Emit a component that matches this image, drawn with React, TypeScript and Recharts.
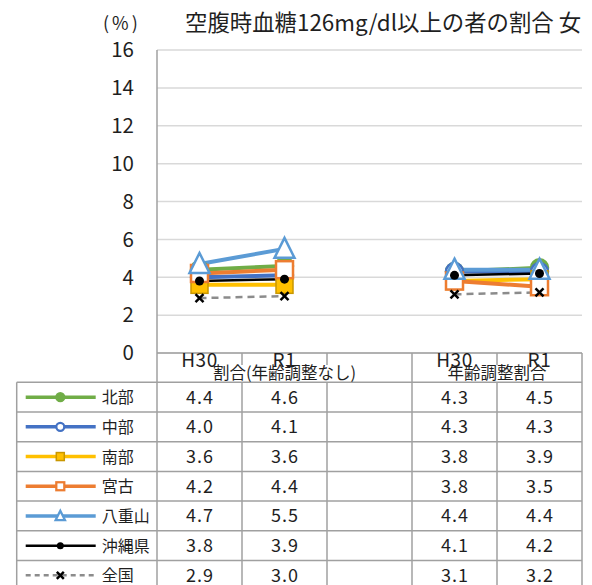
import React from 'react';
import { LineChart, Line, XAxis, YAxis, CartesianGrid } from 'recharts';

const FONT = '"Noto Sans CJK JP", "Noto Sans", sans-serif';
const TEXT = '#1f1f1f';

const title = '空腹時血糖126mg/dl以上の者の割合 女';
const unitLabel = '(%)';
const categories = ['H30', 'R1', '', 'H30', 'R1'];
const groups = ['割合(年齢調整なし)', '年齢調整割合'];
const groupSpans = [[0, 3], [3, 5]];
const yTicks = [0, 2, 4, 6, 8, 10, 12, 14, 16];

const seriesNames = ['北部', '中部', '南部', '宮古', '八重山', '沖縄県', '全国'];
const hokubu = [4.4, 4.6, null, 4.3, 4.5];
const chubu = [4.0, 4.1, null, 4.3, 4.3];
const nanbu = [3.6, 3.6, null, 3.8, 3.9];
const miyako = [4.2, 4.4, null, 3.8, 3.5];
const yaeyama = [4.7, 5.5, null, 4.4, 4.4];
const okinawa = [3.8, 3.9, null, 4.1, 4.2];
const zenkoku = [2.9, 3.0, null, 3.1, 3.2];
const seriesValues = [hokubu, chubu, nanbu, miyako, yaeyama, okinawa, zenkoku];

type Style = { color: string; width: number; dash?: string; marker: string; fill: string; mstroke: string };
const styles: Style[] = [
  { color: '#70AD47', width: 4, marker: 'circle', fill: '#70AD47', mstroke: '#70AD47' },
  { color: '#4472C4', width: 4, marker: 'circle', fill: '#FFFFFF', mstroke: '#4472C4' },
  { color: '#FFC000', width: 4, marker: 'square', fill: '#FFC000', mstroke: '#C99700' },
  { color: '#ED7D31', width: 4, marker: 'square', fill: '#FFFFFF', mstroke: '#ED7D31' },
  { color: '#5B9BD5', width: 4, marker: 'triangle', fill: '#FFFFFF', mstroke: '#5B9BD5' },
  { color: '#000000', width: 2.5, marker: 'dot', fill: '#000000', mstroke: '#000000' },
  { color: '#8C8C8C', width: 2.5, dash: '7 5', marker: 'x', fill: '#000000', mstroke: '#000000' },
];

const data = categories.map((c, i) => {
  const row: any = { x: i + 0.5, cat: c };
  seriesValues.forEach((vals, s) => {
    row['s' + s] = vals[i];
  });
  return row;
});

// layout
const W = 592;
const H = 585;
const PL = 157;
const PR = 582;
const PT = 50;
const PB = 353;
const BAND = (PR - PL) / categories.length;
const TABLE_TOP = 382.3;
const ROW_H = 29.7;
const TABLE_LEFT = 16.7;

function Marker({ type, cx, cy, st, scale }: any) {
  const k = scale;
  const sw = st.marker === 'square' && st.fill !== '#FFFFFF' ? 1.5 : 2.5 * (k < 1 ? 0.9 : 1);
  if (type === 'circle') {
    return <circle cx={cx} cy={cy} r={8.5 * k} fill={st.fill} stroke={st.mstroke} strokeWidth={sw} />;
  }
  if (type === 'square') {
    const h = 8.5 * k;
    return <rect x={cx - h} y={cy - h} width={2 * h} height={2 * h} fill={st.fill} stroke={st.mstroke} strokeWidth={sw} />;
  }
  if (type === 'triangle') {
    const w = 10 * k;
    const hh = 10 * k;
    return (
      <polygon
        points={`${cx},${cy - hh - 1 * k} ${cx + w},${cy + hh - 1 * k} ${cx - w},${cy + hh - 1 * k}`}
        fill={st.fill}
        stroke={st.mstroke}
        strokeWidth={sw}
        strokeLinejoin="miter"
      />
    );
  }
  if (type === 'dot') {
    return <circle cx={cx} cy={cy} r={k < 1 ? 3.5 : 4.5} fill="#000" />;
  }
  if (type === 'x') {
    const d = k < 1 ? 3.5 : 4;
    return (
      <g stroke="#000" strokeWidth={2.5}>
        <line x1={cx - d} y1={cy - d} x2={cx + d} y2={cy + d} />
        <line x1={cx - d} y1={cy + d} x2={cx + d} y2={cy - d} />
      </g>
    );
  }
  return null;
}

const makeDot = (st: Style) => (props: any) => {
  const { cx, cy, index, value } = props;
  if (cx == null || cy == null || value == null) return <g key={'e' + index} />;
  return (
    <g key={'d' + index}>
      <Marker type={st.marker} cx={cx} cy={cy} st={st} scale={1} />
    </g>
  );
};

const XTick = (props: any) => {
  const { x, y, payload } = props;
  const label = categories[Math.round(payload.value - 0.5)];
  return (
    <text x={x} y={y + 13.8} textAnchor="middle" fontSize={19} fill={TEXT} fontFamily={FONT} letterSpacing={0.6}>
      {label}
    </text>
  );
};

function Overlay() {
  const lc = '#A0A0A0';
  const lw = 1.5;
  const lines: any[] = [];
  const nRows = seriesNames.length;
  for (let k = 0; k <= nRows; k++) {
    const y = TABLE_TOP + k * ROW_H;
    if (y > H) break;
    lines.push(<line key={'h' + k} x1={TABLE_LEFT} x2={PR} y1={y} y2={y} stroke={lc} strokeWidth={lw} />);
  }
  lines.push(<line key="vl" x1={TABLE_LEFT} x2={TABLE_LEFT} y1={TABLE_TOP} y2={H} stroke={lc} strokeWidth={lw} />);
  lines.push(<line key="vax" x1={PL} x2={PL} y1={PB} y2={H} stroke={lc} strokeWidth={lw} />);
  for (let i = 1; i <= categories.length; i++) {
    const x = PL + i * BAND;
    const isGroupEdge = groupSpans.some((g) => g[1] === i);
    if (isGroupEdge) {
      lines.push(<line key={'v' + i} x1={x} x2={x} y1={PB} y2={H} stroke={lc} strokeWidth={lw} />);
    } else {
      lines.push(<line key={'vt' + i} x1={x} x2={x} y1={PB} y2={PB + 12} stroke={lc} strokeWidth={lw} />);
      lines.push(<line key={'vb' + i} x1={x} x2={x} y1={TABLE_TOP} y2={H} stroke={lc} strokeWidth={lw} />);
    }
  }

  const texts: any[] = [];
  groups.forEach((g, gi) => {
    const [a, b] = groupSpans[gi];
    const cx = PL + ((a + b) / 2) * BAND;
    texts.push(
      <text key={'g' + gi} x={cx} y={379} textAnchor="middle" fontSize={16.5} fill={TEXT} fontFamily={FONT}>
        {g}
      </text>
    );
  });

  seriesNames.forEach((name, s) => {
    const st = styles[s];
    const cy = TABLE_TOP + s * ROW_H + ROW_H / 2;
    texts.push(
      <g key={'lg' + s}>
        <line x1={25.7} x2={95.7} y1={cy} y2={cy} stroke={st.color} strokeWidth={st.width === 4 ? 3.5 : 2.5} strokeDasharray={st.dash ? '5 4' : undefined} />
        <Marker type={st.marker} cx={60.3} cy={cy} st={st} scale={0.47} />
        <text x={101.7} y={cy + 6} fontSize={16} fill={TEXT} fontFamily={FONT}>
          {name}
        </text>
      </g>
    );
    seriesValues[s].forEach((v, i) => {
      if (v == null) return;
      texts.push(
        <text key={'v' + s + '_' + i} x={PL + (i + 0.5) * BAND + 0.5} y={cy + 6.5} textAnchor="middle" fontSize={18} fill={TEXT} fontFamily={FONT} letterSpacing={1}>
          {v.toFixed(1)}
        </text>
      );
    });
  });

  return (
    <svg width={W} height={H} style={{ position: 'absolute', left: 0, top: 0, pointerEvents: 'none' }}>
      <text x={103} y={30} fontSize={18} fill={TEXT} fontFamily={FONT} letterSpacing={3}>
        {unitLabel}
      </text>
      <text x={185} y={31} fontSize={22.4} fill={TEXT} fontFamily={FONT}>
        {title}
      </text>
      {lines}
      {texts}
    </svg>
  );
}

export default function App() {
  return (
    <div style={{ position: 'absolute', left: 0, top: 0, width: W, height: H, background: '#fff', overflow: 'hidden', fontFamily: FONT }}>
      <LineChart width={W} height={H} data={data} margin={{ top: PT, right: W - PR, left: PL - 60, bottom: 0 }}>
        <CartesianGrid vertical={false} stroke="#D9D9D9" strokeWidth={1.5} />
        <XAxis
          dataKey="x"
          type="number"
          domain={[0, categories.length]}
          ticks={[0.5, 1.5, 3.5, 4.5]}
          height={H - PB}
          tickLine={false}
          tickSize={0}
          tickMargin={0}
          axisLine={{ stroke: '#A0A0A0', strokeWidth: 1.5 }}
          tick={<XTick />}
          interval={0}
        />
        <YAxis
          width={60}
          domain={[0, 16]}
          ticks={yTicks}
          tickLine={false}
          tickSize={0}
          tickMargin={23}
          axisLine={{ stroke: '#A0A0A0', strokeWidth: 1.5 }}
          tick={{ fontSize: 20.5, fill: TEXT, fontFamily: FONT }}
          interval={0}
        />
        {styles.map((st, s) => (
          <Line
            key={'s' + s}
            dataKey={'s' + s}
            name={seriesNames[s]}
            stroke={st.color}
            strokeWidth={st.width}
            strokeDasharray={st.dash}
            dot={makeDot(st)}
            activeDot={false}
            isAnimationActive={false}
            connectNulls={false}
            type="linear"
          />
        ))}
      </LineChart>
      <Overlay />
    </div>
  );
}
